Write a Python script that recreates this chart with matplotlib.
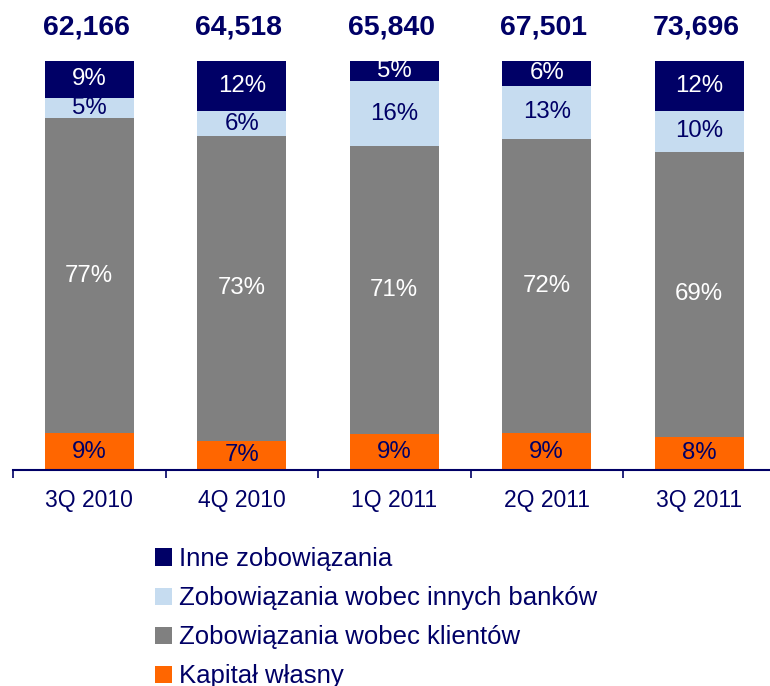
import matplotlib
matplotlib.use("Agg")
import matplotlib.pyplot as plt
import numpy as np

plt.rcParams['font.family'] = ['Liberation Sans', 'DejaVu Sans']

# Quarterly balance-sheet structure (liabilities and equity), shares in %
quarters = ["3Q 2010", "4Q 2010", "1Q 2011", "2Q 2011", "3Q 2011"]
totals = ["62,166", "64,518", "65,840", "67,501", "73,696"]
kapital = [9, 7, 9, 9, 8]
klienci = [77, 73, 71, 72, 69]
banki = [5, 6, 16, 13, 10]
inne = [9, 12, 5, 6, 12]

series = [
    ("Kapitał własny", kapital, "#FF6600", "#000066"),
    ("Zobowiązania wobec klientów", klienci, "#808080", "white"),
    ("Zobowiązania wobec innych banków", banki, "#C6DCF0", "#000066"),
    ("Inne zobowiązania", inne, "#000066", "white"),
]

NAVY = "#000066"
W, H = 770, 686
fig = plt.figure(figsize=(W / 100, H / 100), dpi=100)
ax = fig.add_axes([13 / W, (H - 470) / H, 762.5 / W, 409 / H])

x = np.arange(len(quarters))
sums = np.sum([s[1] for s in series], axis=0)
bottom = np.zeros(len(quarters))
handles = []
for name, vals, color, tcolor in series:
    # 100% stacked: each segment is its share of the column total
    h = np.array(vals, dtype=float) / sums * 100
    bars = ax.bar(x, h, bottom=bottom, width=0.585, color=color,
                  edgecolor="none", label=name)
    handles.append(bars)
    for xi, b, hi, v in zip(x, bottom, h, vals):
        ax.text(xi, b + hi / 2, f"{v}%", ha="center", va="center",
                fontsize=17.3, color=tcolor)
    bottom += h

for xi, t in zip(x, totals):
    ax.text(xi - 0.02, 108.3, t, ha="center", va="center", fontsize=20.5,
            fontweight="bold", color=NAVY, clip_on=False)

ax.set_xlim(-0.5, len(quarters) - 0.5)
ax.set_ylim(0, 100)
for s in ("top", "left", "right"):
    ax.spines[s].set_visible(False)
ax.spines["bottom"].set_color(NAVY)
ax.spines["bottom"].set_linewidth(1.5)
ax.set_yticks([])
ax.set_xticks(x)
ax.set_xticklabels(quarters, fontsize=16.5, color=NAVY)
ax.tick_params(axis="x", which="major", length=0, pad=14)
ax.set_xticks(np.arange(-0.5, len(quarters), 1.0), minor=True)
ax.tick_params(axis="x", which="minor", length=5.5, width=1.2, color=NAVY,
               direction="out")

leg = fig.legend(handles=handles[::-1], labels=[s[0] for s in series][::-1],
                 loc="upper left", bbox_to_anchor=(155 / W, (H - 547) / H),
                 frameon=False, fontsize=18.5, handlelength=0.65,
                 handleheight=0.65, handletextpad=0.3, labelspacing=0.59,
                 borderpad=0, borderaxespad=0)
for t in leg.get_texts():
    t.set_color(NAVY)

fig.savefig("out.png", dpi=100)
